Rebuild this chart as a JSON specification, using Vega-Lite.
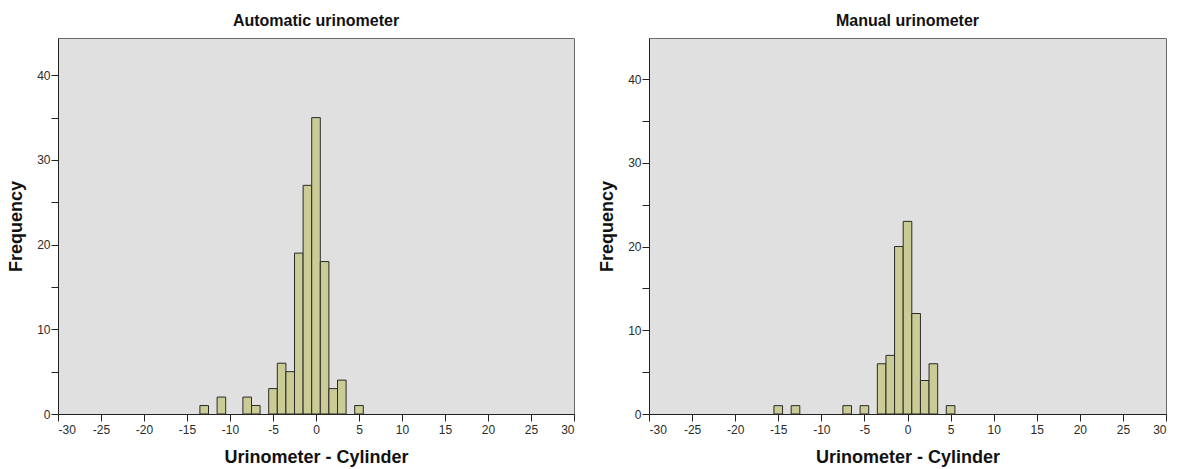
{
  "$schema": "https://vega.github.io/schema/vega-lite/v6.json",
  "background": "white",
  "padding": {"left": 7, "top": 12, "right": 5, "bottom": 0},
  "datasets": {
    "bars": [
      {"panel": "Automatic urinometer", "from": -13.5, "to": -12.5, "count": 1},
      {"panel": "Automatic urinometer", "from": -11.5, "to": -10.5, "count": 2},
      {"panel": "Automatic urinometer", "from": -8.5, "to": -7.5, "count": 2},
      {"panel": "Automatic urinometer", "from": -7.5, "to": -6.5, "count": 1},
      {"panel": "Automatic urinometer", "from": -5.5, "to": -4.5, "count": 3},
      {"panel": "Automatic urinometer", "from": -4.5, "to": -3.5, "count": 6},
      {"panel": "Automatic urinometer", "from": -3.5, "to": -2.5, "count": 5},
      {"panel": "Automatic urinometer", "from": -2.5, "to": -1.5, "count": 19},
      {"panel": "Automatic urinometer", "from": -1.5, "to": -0.5, "count": 27},
      {"panel": "Automatic urinometer", "from": -0.5, "to": 0.5, "count": 35},
      {"panel": "Automatic urinometer", "from": 0.5, "to": 1.5, "count": 18},
      {"panel": "Automatic urinometer", "from": 1.5, "to": 2.5, "count": 3},
      {"panel": "Automatic urinometer", "from": 2.5, "to": 3.5, "count": 4},
      {"panel": "Automatic urinometer", "from": 4.5, "to": 5.5, "count": 1},
      {"panel": "Manual urinometer", "from": -15.5, "to": -14.5, "count": 1},
      {"panel": "Manual urinometer", "from": -13.5, "to": -12.5, "count": 1},
      {"panel": "Manual urinometer", "from": -7.5, "to": -6.5, "count": 1},
      {"panel": "Manual urinometer", "from": -5.5, "to": -4.5, "count": 1},
      {"panel": "Manual urinometer", "from": -3.5, "to": -2.5, "count": 6},
      {"panel": "Manual urinometer", "from": -2.5, "to": -1.5, "count": 7},
      {"panel": "Manual urinometer", "from": -1.5, "to": -0.5, "count": 20},
      {"panel": "Manual urinometer", "from": -0.5, "to": 0.5, "count": 23},
      {"panel": "Manual urinometer", "from": 0.5, "to": 1.5, "count": 12},
      {"panel": "Manual urinometer", "from": 1.5, "to": 2.5, "count": 4},
      {"panel": "Manual urinometer", "from": 2.5, "to": 3.5, "count": 6},
      {"panel": "Manual urinometer", "from": 4.5, "to": 5.5, "count": 1}
    ]
  },
  "config": {
    "font": "Liberation Sans",
    "view": {"fill": "#E0E0E0", "stroke": "#6b6b6b", "strokeWidth": 1},
    "axis": {
      "grid": false,
      "domainColor": "#222222",
      "tickColor": "#222222",
      "labelColor": "#2a2a2a",
      "labelFont": "Liberation Sans",
      "labelFontSize": 12,
      "titleFont": "Liberation Sans",
      "titleFontSize": 18,
      "titleFontWeight": "bold",
      "titleColor": "#111111",
      "tickSize": 7
    },
    "title": {"font": "Liberation Sans", "fontSize": 16, "fontWeight": "bold", "color": "#111111", "offset": 9},
    "concat": {"spacing": 23}
  },
  "hconcat": [
    {
      "title": "Automatic urinometer",
      "width": 516,
      "height": 376,
      "data": {"name": "bars"},
      "transform": [{"filter": "datum.panel === 'Automatic urinometer'"}],
      "mark": {"type": "bar", "fill": "#CBCB96", "stroke": "#2a2a2a", "strokeWidth": 1},
      "encoding": {
        "x": {
          "field": "from", "type": "quantitative",
          "scale": {"domain": [-30, 30], "nice": false, "zero": false},
          "axis": {"values": [-30, -25, -20, -15, -10, -5, 0, 5, 10, 15, 20, 25, 30], "labelExpr": "toString(datum.value)", "title": "Urinometer - Cylinder", "labelPadding": 3, "titlePadding": 13}
        },
        "x2": {"field": "to"},
        "y": {
          "field": "count", "type": "quantitative",
          "scale": {"domain": [0, 44.4], "nice": false},
          "axis": {"values": [0, 5, 10, 15, 20, 25, 30, 35, 40], "labelExpr": "datum.value % 10 === 0 ? datum.label : ''", "title": "Frequency", "labelPadding": 1, "titlePadding": 11}
        },
        "y2": {"datum": 0}
      }
    },
    {
      "title": "Manual urinometer",
      "width": 517,
      "height": 376,
      "data": {"name": "bars"},
      "transform": [{"filter": "datum.panel === 'Manual urinometer'"}],
      "mark": {"type": "bar", "fill": "#CBCB96", "stroke": "#2a2a2a", "strokeWidth": 1},
      "encoding": {
        "x": {
          "field": "from", "type": "quantitative",
          "scale": {"domain": [-30, 30], "nice": false, "zero": false},
          "axis": {"values": [-30, -25, -20, -15, -10, -5, 0, 5, 10, 15, 20, 25, 30], "labelExpr": "toString(datum.value)", "title": "Urinometer - Cylinder", "labelPadding": 3, "titlePadding": 13}
        },
        "x2": {"field": "to"},
        "y": {
          "field": "count", "type": "quantitative",
          "scale": {"domain": [0, 44.9], "nice": false},
          "axis": {"values": [0, 5, 10, 15, 20, 25, 30, 35, 40], "labelExpr": "datum.value % 10 === 0 ? datum.label : ''", "title": "Frequency", "labelPadding": 1, "titlePadding": 11}
        },
        "y2": {"datum": 0}
      }
    }
  ]
}
